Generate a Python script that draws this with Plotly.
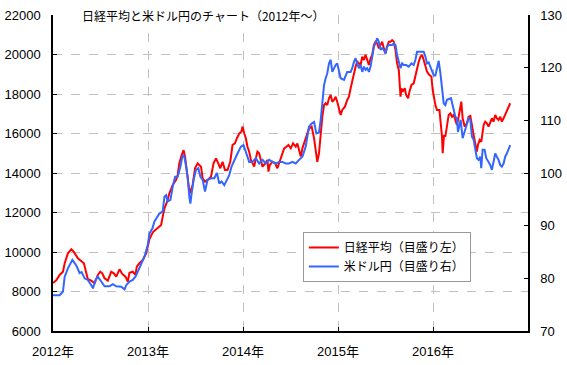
import plotly.graph_objects as go

# Nikkei average (left axis), time in decimal years
nikkei_t = [2012.000, 2012.036, 2012.070, 2012.105, 2012.123, 2012.157, 2012.193, 2012.217, 2012.262, 2012.298,
            2012.325, 2012.351, 2012.367, 2012.403, 2012.438, 2012.472, 2012.498, 2012.519, 2012.543, 2012.577,
            2012.613, 2012.640, 2012.666, 2012.700, 2012.729, 2012.763, 2012.787, 2012.805, 2012.840, 2012.868,
            2012.882, 2012.910, 2012.945, 2012.981, 2013.015, 2013.050, 2013.102, 2013.138, 2013.155, 2013.173,
            2013.201, 2013.225, 2013.260, 2013.296, 2013.312, 2013.330, 2013.354, 2013.375, 2013.390, 2013.411,
            2013.425, 2013.438, 2013.470, 2013.495, 2013.522, 2013.558, 2013.575, 2013.600, 2013.627, 2013.663,
            2013.690, 2013.716, 2013.740, 2013.761, 2013.785, 2013.810, 2013.837, 2013.866, 2013.890, 2013.915,
            2013.936, 2013.960, 2013.984, 2013.995, 2014.013, 2014.030, 2014.047, 2014.065, 2014.083, 2014.100,
            2014.118, 2014.135, 2014.152, 2014.170, 2014.188, 2014.205, 2014.233, 2014.257, 2014.268, 2014.282,
            2014.310, 2014.338, 2014.362, 2014.387, 2014.415, 2014.433, 2014.457, 2014.478, 2014.503, 2014.527,
            2014.555, 2014.572, 2014.590, 2014.608, 2014.625, 2014.643, 2014.660, 2014.695, 2014.723, 2014.748,
            2014.765, 2014.782, 2014.800, 2014.818, 2014.835, 2014.853, 2014.870, 2014.887, 2014.905, 2014.923,
            2014.940, 2014.958, 2014.975, 2014.992, 2015.010, 2015.028, 2015.045, 2015.073, 2015.097, 2015.115,
            2015.133, 2015.150, 2015.168, 2015.185, 2015.202, 2015.220, 2015.238, 2015.255, 2015.273, 2015.290,
            2015.307, 2015.325, 2015.343, 2015.360, 2015.378, 2015.395, 2015.412, 2015.430, 2015.448, 2015.465,
            2015.483, 2015.500, 2015.517, 2015.535, 2015.553, 2015.570, 2015.587, 2015.605, 2015.622, 2015.640,
            2015.658, 2015.668, 2015.682, 2015.703, 2015.717, 2015.738, 2015.752, 2015.773, 2015.797, 2015.815,
            2015.832, 2015.850, 2015.868, 2015.885, 2015.902, 2015.920, 2015.937, 2015.955, 2015.983, 2015.997,
            2016.008, 2016.025, 2016.042, 2016.068, 2016.078, 2016.095, 2016.102, 2016.116, 2016.130, 2016.147,
            2016.165, 2016.183, 2016.200, 2016.218, 2016.235, 2016.252, 2016.270, 2016.288, 2016.298, 2016.312,
            2016.333, 2016.357, 2016.375, 2016.393, 2016.410, 2016.428, 2016.445, 2016.462, 2016.473, 2016.491,
            2016.508, 2016.522, 2016.533, 2016.550, 2016.567, 2016.585, 2016.603, 2016.620, 2016.637, 2016.655,
            2016.672, 2016.690, 2016.708, 2016.725, 2016.743, 2016.760, 2016.777, 2016.795, 2016.813]
nikkei_v = [8430, 8580, 8836, 9000, 9430, 9935, 10140, 10020, 9680, 9560,
            9430, 8920, 8620, 8550, 8420, 8840, 9000, 8920, 8670, 8550,
            9000, 8920, 8750, 9125, 8890, 8750, 8500, 8950, 9000, 8840,
            9260, 9430, 9600, 9935, 10650, 11000, 11200, 11370, 11790, 12210,
            12550, 12970, 13390, 13650, 13900, 14490, 14910, 15160, 14830, 13980,
            13310, 12970, 13390, 14240, 14490, 14320, 13730, 13560, 13650, 13810,
            14490, 14740, 14490, 14240, 14570, 14150, 14150, 14570, 15420, 15500,
            15760, 16000, 16100, 16350, 16010, 15760, 15330, 15080, 14660, 14490,
            14320, 14740, 15080, 15000, 14660, 14320, 14490, 14660, 14070, 14400,
            14570, 14490, 14240, 14570, 15000, 15250, 15330, 15420, 15250, 15500,
            15330, 15500, 15160, 14830, 15250, 15500, 15670, 16260, 16350, 15760,
            15160, 14570, 15000, 16100, 16850, 17440, 17530, 17440, 17780, 17950,
            17610, 17700, 17860, 17610, 17280, 16940, 17190, 17360, 17700, 17860,
            18290, 18710, 19050, 19380, 19640, 19550, 19470, 19890, 19720, 19980,
            19720, 19470, 19810, 19980, 20480, 20650, 20570, 20310, 20480, 20650,
            20310, 20060, 20400, 20650, 20650, 20730, 20650, 20230, 19550, 19220,
            17860, 18290, 18120, 18290, 17950, 17780, 18120, 18460, 18540, 18960,
            19300, 19640, 19890, 19980, 19720, 19380, 19130, 19000, 18880, 18200,
            17860, 17440, 17190, 17190, 16680, 15840, 15000, 15920, 15840, 16520,
            16940, 17020, 16850, 16940, 16680, 16430, 16850, 17280, 17610, 16770,
            16350, 16520, 16850, 16890, 16350, 15920, 15500, 15080, 15420, 15670,
            15580, 16100, 16430, 16600, 16520, 16350, 16600, 16770, 16600, 16940,
            16770, 16680, 16850, 16600, 16770, 16940, 17110, 17360, 17530]

# USD/JPY (right axis)
usd_t = [2012.000, 2012.070, 2012.105, 2012.123, 2012.157, 2012.204, 2012.228, 2012.252, 2012.280, 2012.301,
         2012.333, 2012.367, 2012.403, 2012.420, 2012.448, 2012.472, 2012.508, 2012.543, 2012.595, 2012.630,
         2012.666, 2012.718, 2012.753, 2012.771, 2012.805, 2012.840, 2012.868, 2012.892, 2012.928, 2012.963,
         2012.997, 2013.015, 2013.047, 2013.068, 2013.120, 2013.155, 2013.173, 2013.191, 2013.207, 2013.236,
         2013.260, 2013.285, 2013.312, 2013.341, 2013.365, 2013.383, 2013.401, 2013.417, 2013.435, 2013.446,
         2013.459, 2013.480, 2013.506, 2013.530, 2013.551, 2013.575, 2013.600, 2013.627, 2013.663, 2013.698,
         2013.726, 2013.750, 2013.774, 2013.803, 2013.831, 2013.855, 2013.879, 2013.908, 2013.942, 2013.978,
         2014.005, 2014.030, 2014.065, 2014.100, 2014.135, 2014.170, 2014.205, 2014.240, 2014.275, 2014.310,
         2014.345, 2014.380, 2014.415, 2014.450, 2014.485, 2014.520, 2014.555, 2014.590, 2014.625, 2014.660,
         2014.695, 2014.723, 2014.748, 2014.772, 2014.800, 2014.818, 2014.835, 2014.853, 2014.870, 2014.887,
         2014.905, 2014.923, 2014.940, 2014.958, 2014.975, 2014.992, 2015.010, 2015.028, 2015.063, 2015.080,
         2015.097, 2015.133, 2015.150, 2015.168, 2015.185, 2015.202, 2015.220, 2015.238, 2015.255, 2015.273,
         2015.290, 2015.307, 2015.325, 2015.343, 2015.360, 2015.378, 2015.395, 2015.412, 2015.430, 2015.448,
         2015.465, 2015.483, 2015.500, 2015.517, 2015.535, 2015.570, 2015.587, 2015.605, 2015.622, 2015.640,
         2015.658, 2015.675, 2015.692, 2015.717, 2015.745, 2015.773, 2015.797, 2015.815, 2015.832, 2015.868,
         2015.902, 2015.920, 2015.937, 2015.955, 2015.990, 2016.008, 2016.025, 2016.042, 2016.060, 2016.078,
         2016.095, 2016.113, 2016.130, 2016.147, 2016.189, 2016.210, 2016.218, 2016.235, 2016.252, 2016.263,
         2016.277, 2016.291, 2016.312, 2016.333, 2016.357, 2016.375, 2016.393, 2016.410, 2016.428, 2016.445,
         2016.462, 2016.480, 2016.498, 2016.508, 2016.522, 2016.543, 2016.561, 2016.585, 2016.603, 2016.620,
         2016.637, 2016.655, 2016.672, 2016.690, 2016.708, 2016.725, 2016.743, 2016.760, 2016.777, 2016.795,
         2016.813]
usd_v = [76.8, 76.8, 77.5, 80.3, 81.9, 83.5, 82.9, 82.2, 81.0, 81.2,
         80.0, 79.7, 78.7, 78.1, 79.7, 80.3, 79.4, 78.5, 78.5, 78.9,
         78.5, 78.4, 77.9, 78.7, 79.4, 79.7, 80.3, 81.3, 82.5, 84.1,
         86.3, 88.5, 89.5, 90.8, 92.3, 92.7, 95.5, 95.8, 94.6, 94.9,
         97.4, 99.3, 99.3, 101.2, 103.4, 103.1, 101.2, 99.3, 95.5, 94.2,
         96.1, 98.7, 100.6, 100.9, 99.3, 98.7, 96.5, 98.7, 99.0, 99.0,
         100.0, 98.0, 98.4, 97.7, 98.7, 99.6, 101.2, 102.5, 103.7, 105.0,
         105.3, 104.0, 102.1, 102.1, 102.8, 101.8, 102.5, 101.8, 102.5, 102.1,
         101.8, 102.1, 102.1, 101.8, 101.8, 102.1, 101.8, 102.5, 103.1, 105.0,
         108.8, 109.4, 109.7, 107.5, 107.7, 110.1, 113.0, 116.7, 118.0, 118.9,
         120.8, 121.5, 119.2, 119.9, 120.5, 120.8, 119.6, 118.0, 117.7, 118.3,
         119.2, 119.2, 119.9, 121.1, 121.8, 120.8, 119.9, 120.5, 119.2, 120.2,
         119.6, 119.9, 119.2, 120.2, 122.1, 124.0, 124.6, 125.6, 124.9, 123.4,
         123.7, 123.4, 122.7, 124.0, 124.3, 124.3, 124.6, 124.3, 122.4, 120.8,
         119.9, 120.8, 120.5, 120.5, 120.2, 120.8, 120.5, 121.5, 123.0, 123.0,
         123.0, 122.1, 120.8, 121.0, 119.5, 118.5, 118.5, 119.9, 121.3, 118.9,
         115.8, 113.2, 112.9, 113.9, 114.2, 112.9, 112.0, 110.7, 110.4, 107.8,
         109.1, 110.1, 106.6, 107.8, 109.1, 110.4, 110.1, 106.9, 106.3, 104.7,
         102.8, 102.5, 103.1, 100.9, 104.4, 104.4, 102.8, 102.1, 101.5, 100.6,
         102.1, 103.7, 103.1, 102.5, 101.5, 101.2, 101.8, 103.1, 103.7, 104.7,
         105.3]

years = [2012, 2013, 2014, 2015, 2016]
year_labels = [f"{y}年" for y in years]
left_ticks = [6000, 8000, 10000, 12000, 14000, 16000, 18000, 20000, 22000]
left_labels = [str(v) for v in left_ticks]
right_ticks = [70, 80, 90, 100, 110, 120, 130]
right_labels = [str(v) for v in right_ticks]

FONT = "Liberation Sans, Noto Sans CJK JP, sans-serif"

fig = go.Figure()
fig.add_trace(go.Scatter(x=nikkei_t, y=nikkei_v, mode="lines", name="日経平均（目盛り左）",
                         line=dict(color="#ff0000", width=2), yaxis="y"))
fig.add_trace(go.Scatter(x=usd_t, y=usd_v, mode="lines", name="米ドル円（目盛り右）",
                         line=dict(color="#3366ff", width=2), yaxis="y2"))

fig.update_layout(
    width=567, height=365,
    margin=dict(l=53, r=39, t=15, b=34, autoexpand=False),
    paper_bgcolor="white", plot_bgcolor="white",
    font=dict(family=FONT, size=13, color="black"),
    showlegend=True,
    legend=dict(x=0.526, y=0.313, xanchor="left", yanchor="top",
                bgcolor="white", bordercolor="#999999", borderwidth=1,
                font=dict(size=12, family="Noto Sans CJK JP"), tracegroupgap=0),
    xaxis=dict(range=[2012, 2017], tickvals=years, ticktext=year_labels, automargin=False,
               showgrid=True, gridcolor="#c0c0c0", griddash="dash", gridwidth=1,
               showline=True, linecolor="black", linewidth=1.5,
               ticks="inside", ticklen=4, tickcolor="black", zeroline=False,
               ticklabelstandoff=8),
    yaxis=dict(range=[6000, 22000], tickvals=left_ticks, ticktext=left_labels, automargin=False,
               showgrid=True, gridcolor="#c0c0c0", griddash="dash", gridwidth=1,
               showline=True, linecolor="black", linewidth=1.5,
               ticks="inside", ticklen=4, tickcolor="black", zeroline=False,
               ticklabelstandoff=8),
    yaxis2=dict(range=[70, 130], tickvals=right_ticks, ticktext=right_labels, automargin=False,
                overlaying="y", side="right",
                showgrid=False, showline=True, linecolor="black", linewidth=1.5,
                ticks="inside", ticklen=4, tickcolor="black", zeroline=False,
                ticklabelstandoff=8),
    annotations=[dict(text="日経平均と米ドル円のチャート（2012年～）", xref="paper", yref="paper",
                      x=0.057, y=0.997, xanchor="left", yanchor="middle", showarrow=False,
                      bgcolor="white", font=dict(size=12, family="Noto Sans CJK JP"))],
)

fig.write_html("out.html")
